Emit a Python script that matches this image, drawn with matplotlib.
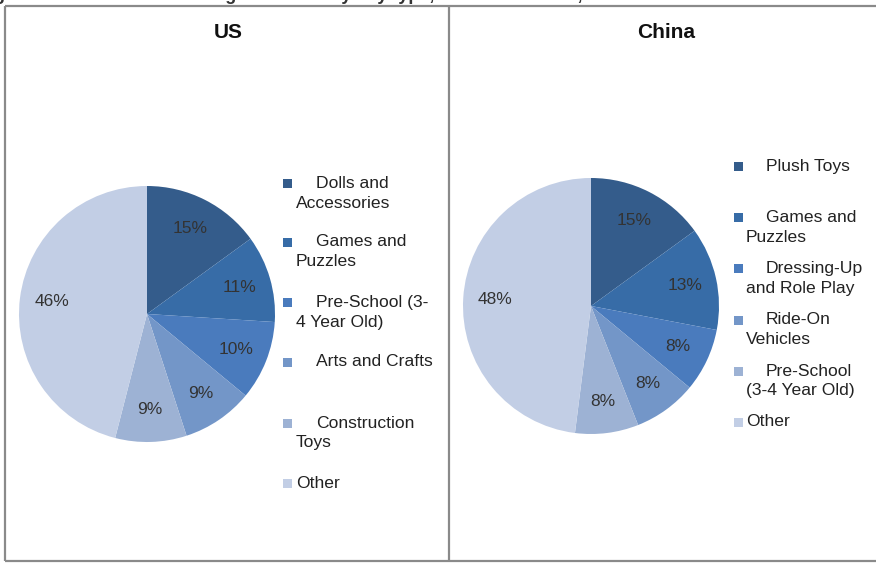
import matplotlib.pyplot as plt
from matplotlib.patches import Rectangle

plt.rcParams['font.family'] = ['Liberation Sans', 'DejaVu Sans']

# data
us_labels = ["Dolls and\nAccessories", "Games and\nPuzzles", "Pre-School (3-\n4 Year Old)",
             "Arts and Crafts", "Construction\nToys", "Other"]
us_values = [15, 11, 10, 9, 9, 46]

cn_labels = ["Plush Toys", "Games and\nPuzzles", "Dressing-Up\nand Role Play",
             "Ride-On\nVehicles", "Pre-School\n(3-4 Year Old)", "Other"]
cn_values = [15, 13, 8, 8, 8, 48]

colors = ["#345c8b", "#376ca7", "#4a7bbd", "#7396c8", "#9db2d4", "#c2cee5"]

W, H = 876, 563
fig = plt.figure(figsize=(W / 100, H / 100), dpi=100)

# background axes in pixel coords for frame, titles and legends
bg = fig.add_axes([0, 0, 1, 1])
bg.set_xlim(0, W)
bg.set_ylim(H, 0)
bg.axis('off')

# frame
for x0, y0, x1, y1 in [(5, 6, 880, 6), (5, 6, 5, 561), (5, 561, 880, 561), (449, 6, 449, 561)]:
    bg.plot([x0, x1], [y0, y1], color='#8a8a8a', lw=1.6, solid_capstyle='butt')

# caption, cropped off at the very top like in the original
bg.text(-22, 0.5, "Figure 2: Sales of traditional games and toys by type, in US and China, 2011",
        fontsize=13, fontweight='bold', color='#333333', va='baseline', ha='left')

bg.text(228, 32, "US", fontsize=15, fontweight='bold', ha='center', va='center', color='#111111')
bg.text(666, 32, "China", fontsize=15, fontweight='bold', ha='center', va='center', color='#111111')


def draw_pie(cx, cy, r, values):
    ax = fig.add_axes([(cx - r) / W, (H - cy - r) / H, 2 * r / W, 2 * r / H])
    ax.pie(values, colors=colors, startangle=90, counterclock=False,
           autopct='%d%%', pctdistance=0.75,
           textprops=dict(fontsize=12.5, color='#333333'),
           wedgeprops=dict(linewidth=0))
    ax.set_xlim(-1, 1)
    ax.set_ylim(-1, 1)
    ax.set_aspect('equal')
    ax.axis('off')


def draw_legend(sq_x, ys, labels, x1, x2):
    for y, lab, c in zip(ys, labels, colors):
        bg.add_patch(Rectangle((sq_x - 4.5, y - 4.5), 9, 9, color=c, lw=0))
        lines = lab.split("\n")
        if lab == "Other":
            bg.text(x2, y, lab, fontsize=12.6, va='center', ha='left', color='#222222')
            continue
        bg.text(x1, y, lines[0], fontsize=12.6, va='center', ha='left', color='#222222')
        if len(lines) > 1:
            bg.text(x2, y + 20, lines[1], fontsize=12.6, va='center', ha='left', color='#222222')


draw_pie(147, 314, 128, us_values)
draw_pie(591, 306, 128, cn_values)

draw_legend(287, [183, 242, 302, 362, 423, 483], us_labels, 316, 296)
draw_legend(738, [166, 217, 268, 320, 371, 422], cn_labels, 766, 746)

fig.savefig("out.png", dpi=100)
